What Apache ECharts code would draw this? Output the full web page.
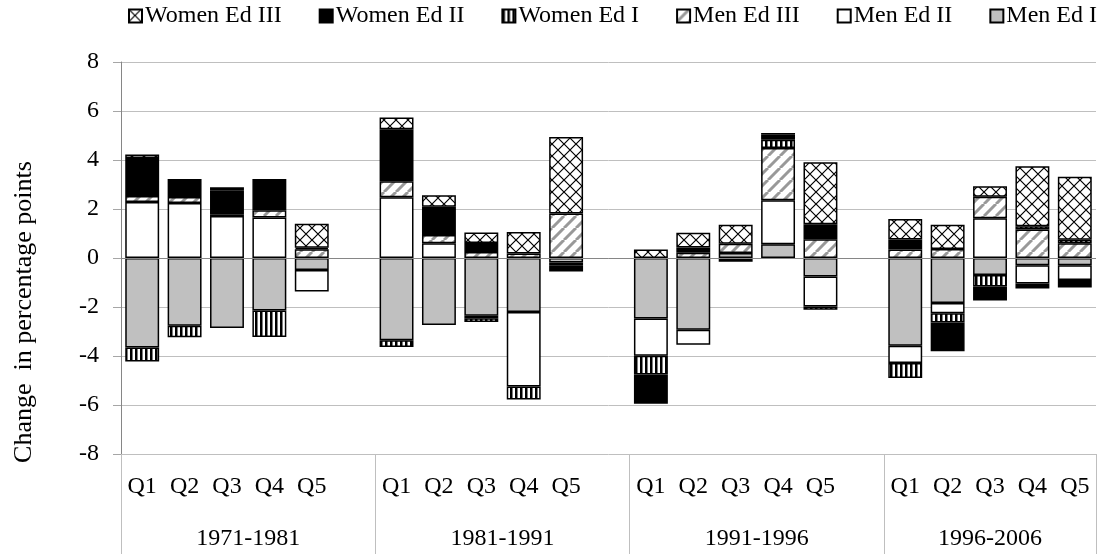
<!DOCTYPE html>
<html>
<head>
<meta charset="utf-8">
<script src="https://cdn.jsdelivr.net/npm/echarts@6/dist/echarts.min.js"></script>
<style>
  html, body { margin: 0; padding: 0; background: #fff; }
  #chart { width: 1104px; height: 554px; }
</style>
</head>
<body>
<div id="chart"></div>
<script>
// categories
const quintiles = ['Q1', 'Q2', 'Q3', 'Q4', 'Q5'];
const periods = ['1971-1981', '1981-1991', '1991-1996', '1996-2006'];
const yTicks = [-8, -6, -4, -2, 0, 2, 4, 6, 8];

// values, Q1..Q5 for each period in turn
const menEd1 = [-3.65, -2.77, -2.86, -2.14, -0.49,  -3.36, -2.73, -2.36, -2.2, -0.18,  -2.47, -2.93, 0.2, 0.56, -0.76,  -3.58, -1.84, -0.69, -0.3, -0.3];
const menEd2 = [2.29, 2.25, 1.71, 1.65, -0.88,  2.48, 0.6, -0.1, -3.04, -0.12,  -1.52, -0.61, 0, 1.8, -1.22,  -0.71, -0.41, 1.62, -0.74, -0.6];
const menEd3 = [0.24, 0.24, 0.08, 0.3, 0.36,  0.65, 0.34, 0.24, 0.18, 1.82,  0, 0.21, 0.38, 2.13, 0.77,  0.35, 0.37, 0.88, 1.16, 0.6];
const womenEd1 = [-0.57, -0.46, 0, -1.08, 0,  -0.27, 0, -0.15, -0.54, 0,  -0.77, 0, 0, 0.34, -0.13,  -0.61, -0.38, -0.47, 0.14, 0.14];
const womenEd2 = [1.55, 0.73, 0.98, 1.27, 0.06,  2.13, 1.15, 0.37, 0, -0.25,  -1.19, 0.22, -0.15, 0.2, 0.61,  0.41, -1.18, -0.57, -0.2, -0.3];
const womenEd3 = [0.14, 0, 0.12, 0, 0.98,  0.47, 0.47, 0.43, 0.88, 3.12,  0.35, 0.6, 0.78, 0.07, 2.53,  0.83, 0.99, 0.43, 2.44, 2.58];

const FONT = 'Liberation Serif';
const FS = 24;

// one empty slot after each period except the last (like the excel sheet)
const cats = [];
const slots = [];   // index into value arrays or -1
const bounds = [0];
const centers = [];
periods.forEach((p, pi) => {
  const start = cats.length;
  quintiles.forEach((q, qi) => { cats.push(q); slots.push(pi * quintiles.length + qi); });
  if (pi < periods.length - 1) { cats.push(''); slots.push(-1); }
  centers.push((start + cats.length) / 2);
  bounds.push(cats.length);
});

function spread(arr) {
  return slots.map(i => (i < 0 || arr[i] === 0) ? '-' : arr[i]);
}

// fill patterns
function pattern(w, h, draw) {
  const c = document.createElement('canvas');
  c.width = w; c.height = h;
  const ctx = c.getContext('2d');
  ctx.fillStyle = '#fff';
  ctx.fillRect(0, 0, w, h);
  draw(ctx, w, h);
  return { image: c, repeat: 'repeat' };
}
const crossFill = pattern(12, 12, (ctx, w, h) => {
  ctx.strokeStyle = '#000';
  ctx.lineWidth = 1.2;
  ctx.beginPath();
  ctx.moveTo(0, 0); ctx.lineTo(w, h);
  ctx.moveTo(w, 0); ctx.lineTo(0, h);
  ctx.stroke();
});
const stripeFill = pattern(5, 4, (ctx, w, h) => {
  ctx.fillStyle = '#000';
  ctx.fillRect(0, 0, 2.5, h);
});
const hatchFill = pattern(12, 12, (ctx, w, h) => {
  ctx.strokeStyle = '#999';
  ctx.lineWidth = 3;
  ctx.beginPath();
  for (let k = -1; k <= 1; k++) {
    ctx.moveTo(k * w, h); ctx.lineTo(k * w + w, 0);
  }
  ctx.stroke();
});

const seriesDefs = [
  { name: 'Men Ed I', data: menEd1, color: '#c0c0c0' },
  { name: 'Men Ed II', data: menEd2, color: '#ffffff' },
  { name: 'Men Ed III', data: menEd3, color: hatchFill },
  { name: 'Women Ed I', data: womenEd1, color: stripeFill },
  { name: 'Women Ed II', data: womenEd2, color: '#000000' },
  { name: 'Women Ed III', data: womenEd3, color: crossFill }
];

const series = seriesDefs.map((s, i) => ({
  name: s.name,
  type: 'bar',
  stack: 'all',
  data: spread(s.data),
  barCategoryGap: '20%',
  itemStyle: { color: s.color, borderColor: '#000', borderWidth: 1.5 },
  emphasis: { disabled: true },
  markLine: i === 0 ? {
    silent: true,
    symbol: 'none',
    label: { show: false },
    lineStyle: { color: '#868686', width: 1, type: 'solid' },
    data: [{ yAxis: 0 }]
  } : undefined
}));

const chart = echarts.init(document.getElementById('chart'));
chart.setOption({
  animation: false,
  textStyle: { fontFamily: FONT },
  legend: {
    top: 4,
    left: 128,
    padding: 0,
    itemWidth: 13,
    itemHeight: 13,
    itemGap: 37,
    icon: 'rect',
    data: seriesDefs.map(s => s.name).reverse(),
    textStyle: { fontSize: FS, color: '#000', fontFamily: FONT, padding: [0, 0, 0, -2] }
  },
  grid: { left: 121, right: 8, top: 62, bottom: 100 },
  xAxis: [
    {
      type: 'category',
      data: cats,
      axisLine: { show: false },
      axisTick: { show: false },
      axisLabel: { interval: 0, fontSize: FS, color: '#000', fontFamily: FONT, margin: 21 }
    },
    {
      type: 'value',
      position: 'bottom',
      min: 0,
      max: cats.length,
      axisLine: { show: false },
      splitLine: { show: false },
      axisTick: { show: true, customValues: bounds, length: 100, lineStyle: { color: '#bfbfbf' } },
      axisLabel: {
        customValues: centers,
        margin: 73,
        fontSize: FS,
        color: '#000',
        fontFamily: FONT,
        formatter: v => periods[centers.indexOf(v)]
      }
    }
  ],
  yAxis: {
    type: 'value',
    min: yTicks[0],
    max: yTicks[yTicks.length - 1],
    interval: 2,
    axisLine: { show: true, lineStyle: { color: '#868686' } },
    axisTick: { show: true, length: 8, lineStyle: { color: '#a6a6a6' } },
    splitLine: { lineStyle: { color: '#bfbfbf' } },
    axisLabel: { fontSize: FS, color: '#000', fontFamily: FONT, margin: 22 }
  },
  graphic: [{
    type: 'text',
    x: 24,
    y: 312,
    rotation: Math.PI / 2,
    style: {
      text: 'Change  in percentage points',
      font: '26px "Liberation Serif"',
      fill: '#000',
      align: 'center',
      verticalAlign: 'middle'
    }
  }],
  series: series
});
</script>
</body>
</html>
